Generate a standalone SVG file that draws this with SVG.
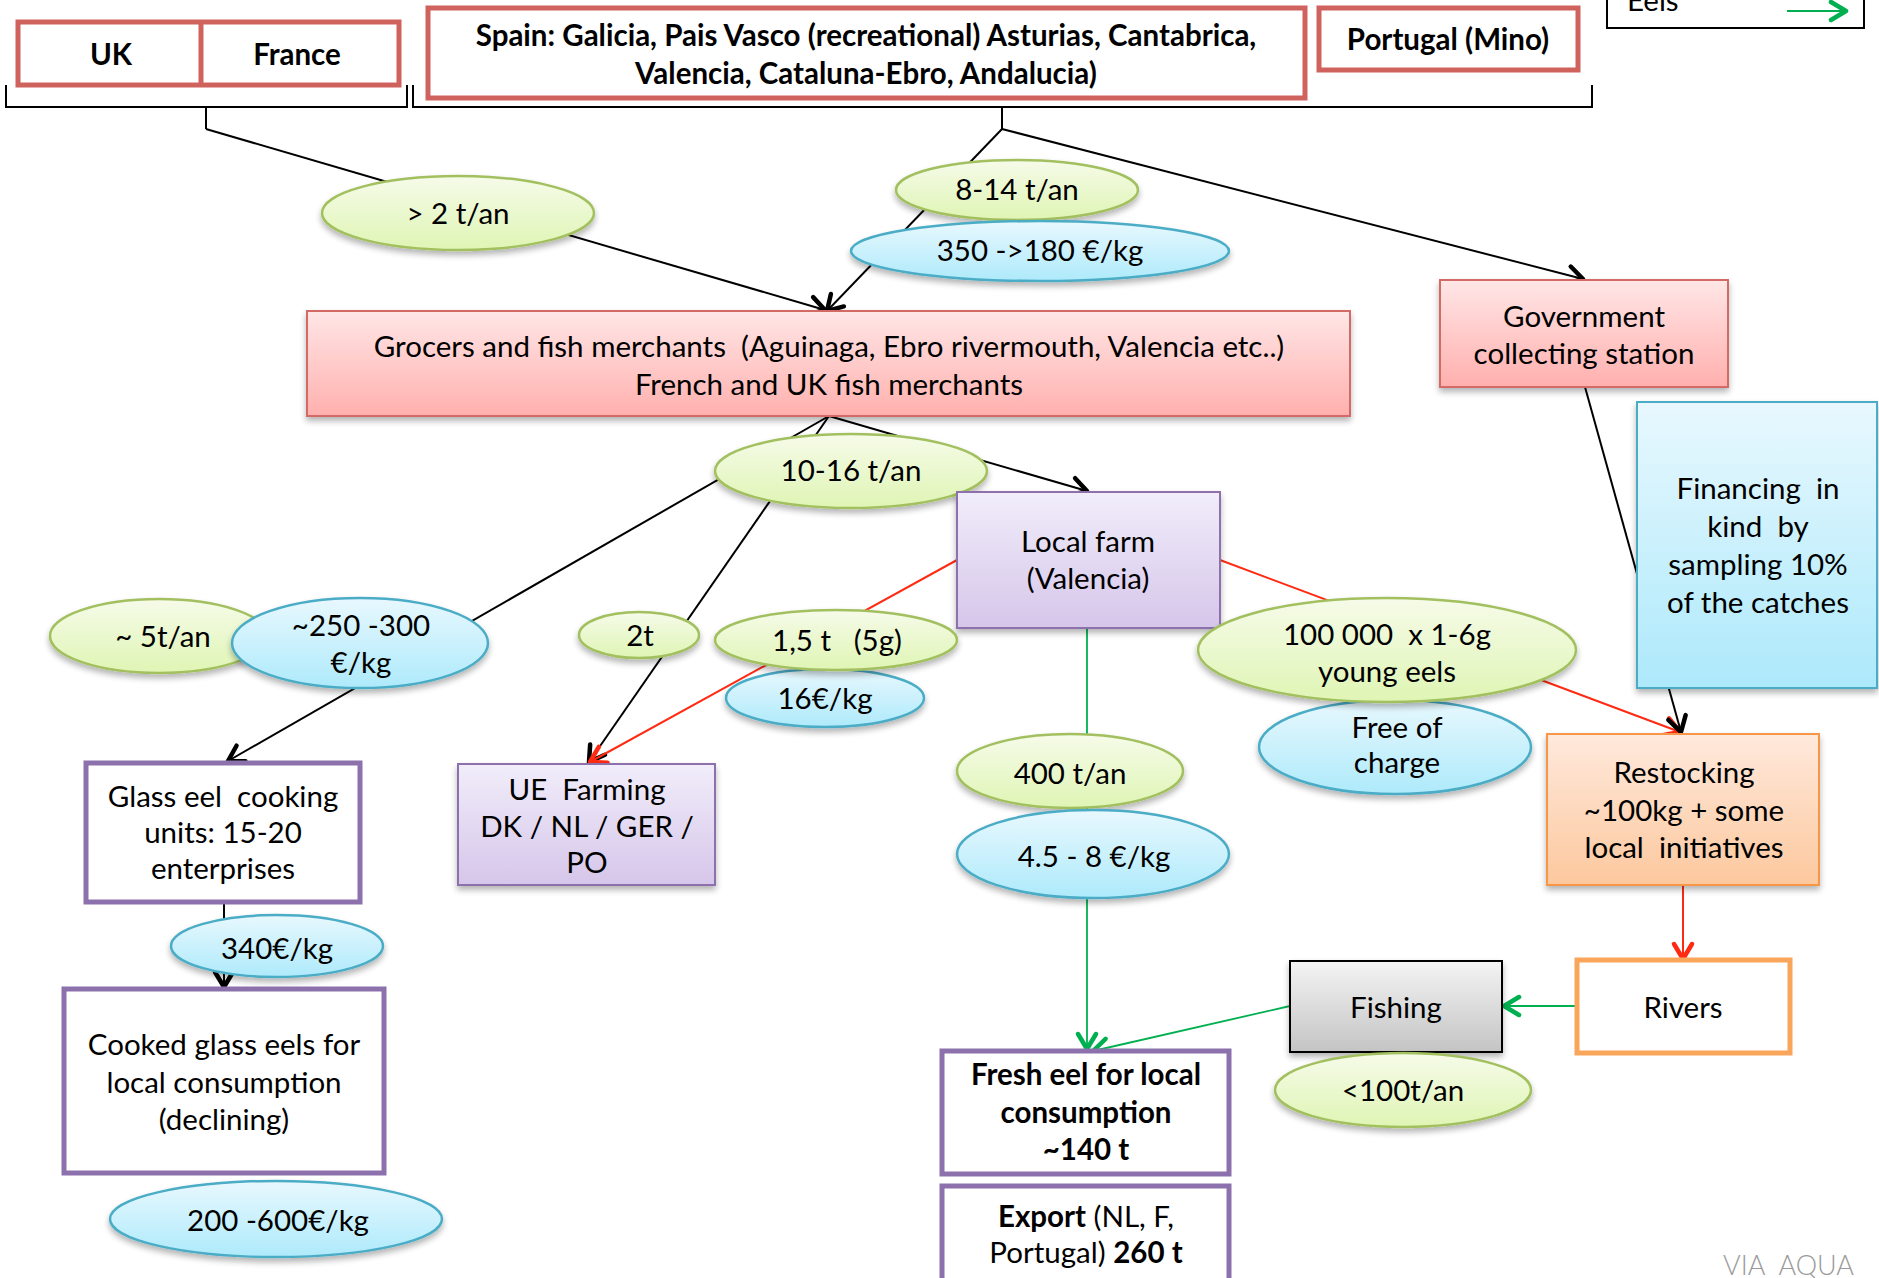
<svg xmlns="http://www.w3.org/2000/svg" width="1879" height="1278" viewBox="0 0 1879 1278" xml:space="preserve">
  <style>
    .t { font-family: Lato, "Open Sans", "DejaVu Sans", sans-serif; font-size: 29.5px; fill: #000; text-anchor: middle; white-space: pre; }
    .b { font-weight: bold; }
    .cb { fill: none; stroke: #000; stroke-width: 2; }
    .cr { fill: none; stroke: #ff2a12; stroke-width: 2; }
    .cg { fill: none; stroke: #00b050; stroke-width: 1.8; }
    .eg { fill: url(#gGreen); stroke: #a2c05e; stroke-width: 2.5; filter: url(#sh); }
    .eb { fill: url(#gBlue); stroke: #4bacc6; stroke-width: 2.5; filter: url(#sh); }
    .redbox { fill: #fff; stroke: #d0625e; stroke-width: 5; }
    .purbox { fill: #fff; stroke: #8c71ad; stroke-width: 5; }
  </style>
  <defs>
    <linearGradient id="gGreen" x1="0" y1="0" x2="0" y2="1">
      <stop offset="0" stop-color="#f6fbe9"/>
      <stop offset="1" stop-color="#dff5b4"/>
    </linearGradient>
    <linearGradient id="gBlue" x1="0" y1="0" x2="0" y2="1">
      <stop offset="0" stop-color="#e8f8fe"/>
      <stop offset="1" stop-color="#aeeafb"/>
    </linearGradient>
    <linearGradient id="gRed" x1="0" y1="0" x2="0" y2="1">
      <stop offset="0" stop-color="#ffe6e6"/>
      <stop offset="1" stop-color="#ffb0ae"/>
    </linearGradient>
    <linearGradient id="gPurple" x1="0" y1="0" x2="0" y2="1">
      <stop offset="0" stop-color="#f1edfa"/>
      <stop offset="1" stop-color="#d6c6ea"/>
    </linearGradient>
    <linearGradient id="gOrange" x1="0" y1="0" x2="0" y2="1">
      <stop offset="0" stop-color="#ffe9dc"/>
      <stop offset="1" stop-color="#fcc89e"/>
    </linearGradient>
    <linearGradient id="gGray" x1="0" y1="0" x2="0" y2="1">
      <stop offset="0" stop-color="#f4f4f4"/>
      <stop offset="1" stop-color="#c4c4c4"/>
    </linearGradient>
    <linearGradient id="gCyan" x1="0" y1="0" x2="0" y2="1">
      <stop offset="0" stop-color="#e8f8fe"/>
      <stop offset="1" stop-color="#ade9fb"/>
    </linearGradient>
    <filter id="sh" x="-10%" y="-15%" width="120%" height="140%">
      <feGaussianBlur in="SourceAlpha" stdDeviation="3" result="blur"/>
      <feOffset in="blur" dy="4" result="off"/>
      <feComponentTransfer in="off" result="shadow">
        <feFuncA type="linear" slope="0.3"/>
      </feComponentTransfer>
      <feMerge>
        <feMergeNode in="shadow"/>
        <feMergeNode in="SourceGraphic"/>
      </feMerge>
    </filter>
    <marker id="aBlack" markerUnits="userSpaceOnUse" viewBox="-22 -13 26 26" markerWidth="26" markerHeight="26" refX="0" refY="0" orient="auto">
      <path d="M-15,-9 L0,0 L-15,9" fill="none" stroke="#000" stroke-width="4.5" stroke-linecap="round" stroke-linejoin="round"/>
    </marker>
    <marker id="aRed" markerUnits="userSpaceOnUse" viewBox="-22 -13 26 26" markerWidth="26" markerHeight="26" refX="0" refY="0" orient="auto">
      <path d="M-15,-9 L0,0 L-15,9" fill="none" stroke="#ff2a12" stroke-width="4.5" stroke-linecap="round" stroke-linejoin="round"/>
    </marker>
    <marker id="aGreen" markerUnits="userSpaceOnUse" viewBox="-22 -13 26 26" markerWidth="26" markerHeight="26" refX="0" refY="0" orient="auto">
      <path d="M-15,-9 L0,0 L-15,9" fill="none" stroke="#00b050" stroke-width="4.5" stroke-linecap="round" stroke-linejoin="round"/>
    </marker>
  </defs>

  <rect width="1879" height="1278" fill="#fff"/>

  <!-- legend -->
  <g id="legend">
    <rect x="1607" y="-20" width="257" height="48" fill="#fff" stroke="#000" stroke-width="2"/>
    <text class="t" x="1627" y="11" style="text-anchor:start">Eels</text>
    <line x1="1787" y1="11" x2="1846" y2="11" class="cg" marker-end="url(#aGreen)"/>
  </g>

  <!-- source countries and their brackets -->
  <g id="brackets" fill="none" stroke="#000" stroke-width="2">
    <path d="M6,85 V107 H407 V85 M206,107 V129"/>
    <path d="M413,85 V107 H1592 V85 M1002,107 V129"/>
  </g>

  <!-- connectors -->
  <g id="connectors">
    <line x1="206" y1="129" x2="825" y2="310" class="cb" marker-end="url(#aBlack)"/>
    <line x1="1002" y1="129" x2="827" y2="311" class="cb" marker-end="url(#aBlack)"/>
    <line x1="1002" y1="129" x2="1583" y2="279" class="cb" marker-end="url(#aBlack)"/>
    <line x1="829" y1="416" x2="228" y2="761" class="cb" marker-end="url(#aBlack)"/>
    <line x1="829" y1="416" x2="589" y2="762" class="cb" marker-end="url(#aBlack)"/>
    <line x1="829" y1="416" x2="1087" y2="491" class="cb" marker-end="url(#aBlack)"/>
    <line x1="957" y1="560" x2="590" y2="762" class="cr" marker-end="url(#aRed)"/>
    <line x1="1220" y1="560" x2="1680" y2="732" class="cr" marker-end="url(#aRed)"/>
    <line x1="1585" y1="387" x2="1681" y2="732" class="cb" stroke-width="1.6" marker-end="url(#aBlack)"/>
    <line x1="1087" y1="628" x2="1087" y2="1049" class="cg" marker-end="url(#aGreen)"/>
    <line x1="1683" y1="885" x2="1683" y2="959" class="cr" marker-end="url(#aRed)"/>
    <line x1="1577" y1="1006" x2="1504" y2="1006" class="cg" stroke-width="2.5" marker-end="url(#aGreen)"/>
    <line x1="1290" y1="1006" x2="1093" y2="1051" class="cg" marker-end="url(#aGreen)"/>
    <line x1="224" y1="902" x2="224" y2="987" class="cb" marker-end="url(#aBlack)"/>
  </g>

  <g id="uk-france">
    <rect x="18" y="22" width="381" height="63" class="redbox"/>
    <line x1="201" y1="22" x2="201" y2="85" stroke="#d0625e" stroke-width="5"/>
    <text class="t b" x="111" y="65">UK</text>
    <text class="t b" x="297" y="65">France</text>
  </g>

  <g id="spain">
    <rect x="428" y="8" width="877" height="90" class="redbox"/>
    <text class="t b" x="866" y="46">Spain: Galicia, Pais Vasco (recreational) Asturias, Cantabrica,</text>
    <text class="t b" x="866" y="84">Valencia, Cataluna-Ebro, Andalucia)</text>
  </g>

  <g id="portugal">
    <rect x="1319" y="8" width="259" height="62" class="redbox"/>
    <text class="t b" x="1448" y="50">Portugal (Mino)</text>
  </g>

  <g id="q-uk-france">
    <ellipse cx="458" cy="213" rx="136" ry="37" class="eg"/>
    <text class="t" x="458" y="224">&gt; 2 t/an</text>
  </g>

  <g id="q-spain">
    <ellipse cx="1017" cy="190" rx="121" ry="30" class="eg"/>
    <text class="t" x="1017" y="200">8-14 t/an</text>
  </g>

  <g id="p-spain">
    <ellipse cx="1040" cy="251" rx="189" ry="30" class="eb"/>
    <text class="t" x="1040" y="261">350 -&gt;180 €/kg</text>
  </g>

  <g id="grocers">
    <rect x="307" y="311" width="1043" height="105" fill="url(#gRed)" stroke="#d46a66" stroke-width="2" filter="url(#sh)"/>
    <text class="t" x="829" y="357">Grocers and fish merchants  (Aguinaga, Ebro rivermouth, Valencia etc..)</text>
    <text class="t" x="829" y="395">French and UK fish merchants</text>
  </g>

  <g id="government">
    <rect x="1440" y="280" width="288" height="107" fill="url(#gRed)" stroke="#d46a66" stroke-width="2" filter="url(#sh)"/>
    <text class="t" x="1584" y="327">Government</text>
    <text class="t" x="1584" y="364">collecting station</text>
  </g>

  <g id="q-grocers">
    <ellipse cx="851" cy="471" rx="136" ry="37" class="eg"/>
    <text class="t" x="851" y="481">10-16 t/an</text>
  </g>

  <g id="local-farm">
    <rect x="957" y="492" width="263" height="136" fill="url(#gPurple)" stroke="#8c71ad" stroke-width="2" filter="url(#sh)"/>
    <text class="t" x="1088" y="552">Local farm</text>
    <text class="t" x="1088" y="589">(Valencia)</text>
  </g>

  <g id="financing">
    <rect x="1637" y="402" width="240" height="286" fill="url(#gCyan)" stroke="#4bacc6" stroke-width="2" filter="url(#sh)"/>
    <text class="t" x="1758" y="499">Financing  in</text>
    <text class="t" x="1758" y="537">kind  by</text>
    <text class="t" x="1758" y="575">sampling 10%</text>
    <text class="t" x="1758" y="613">of the catches</text>
  </g>

  <g id="q-cooking">
    <ellipse cx="159" cy="636" rx="109" ry="37" class="eg"/>
    <text class="t" x="163" y="647">~ 5t/an</text>
  </g>

  <g id="p-cooking">
    <ellipse cx="360" cy="643" rx="128" ry="45" class="eb"/>
    <text class="t" x="361" y="636">~250 -300</text>
    <text class="t" x="361" y="673">€/kg</text>
  </g>

  <g id="q-farming">
    <ellipse cx="639" cy="635" rx="60" ry="23" class="eg"/>
    <text class="t" x="640" y="646">2t</text>
  </g>

  <g id="p-glass">
    <ellipse cx="825" cy="698" rx="99" ry="29" class="eb"/>
    <text class="t" x="825" y="709">16€/kg</text>
  </g>

  <g id="q-glass">
    <ellipse cx="836" cy="640" rx="121" ry="30" class="eg"/>
    <text class="t" x="837" y="651">1,5 t   (5g)</text>
  </g>

  <g id="p-young">
    <ellipse cx="1395" cy="747" rx="136" ry="47" class="eb"/>
    <text class="t" x="1397" y="738">Free of</text>
    <text class="t" x="1397" y="773">charge</text>
  </g>

  <g id="q-young">
    <ellipse cx="1387" cy="650" rx="189" ry="52" class="eg"/>
    <text class="t" x="1387" y="645">100 000  x 1-6g</text>
    <text class="t" x="1387" y="682">young eels</text>
  </g>

  <g id="q-farm">
    <ellipse cx="1070" cy="771" rx="113" ry="37" class="eg"/>
    <text class="t" x="1070" y="784">400 t/an</text>
  </g>

  <g id="p-farm">
    <ellipse cx="1093" cy="854" rx="136" ry="44" class="eb"/>
    <text class="t" x="1094" y="867">4.5 - 8 €/kg</text>
  </g>

  <g id="cooking-units">
    <rect x="86" y="763" width="274" height="139" class="purbox"/>
    <text class="t" x="223" y="807">Glass eel  cooking</text>
    <text class="t" x="223" y="843">units: 15-20</text>
    <text class="t" x="223" y="879">enterprises</text>
  </g>

  <g id="ue-farming">
    <rect x="458" y="764" width="257" height="121" fill="url(#gPurple)" stroke="#8c71ad" stroke-width="2" filter="url(#sh)"/>
    <text class="t" x="587" y="800">UE  Farming</text>
    <text class="t" x="587" y="837">DK / NL / GER /</text>
    <text class="t" x="587" y="873">PO</text>
  </g>

  <g id="restocking">
    <rect x="1547" y="734" width="272" height="151" fill="url(#gOrange)" stroke="#f79646" stroke-width="2" filter="url(#sh)"/>
    <text class="t" x="1684" y="783">Restocking</text>
    <text class="t" x="1684" y="821">~100kg + some</text>
    <text class="t" x="1684" y="858">local  initiatives</text>
  </g>

  <g id="p-cooked">
    <ellipse cx="277" cy="946" rx="106" ry="31" class="eb"/>
    <text class="t" x="277" y="959">340€/kg</text>
  </g>

  <g id="cooked">
    <rect x="64" y="989" width="320" height="184" class="purbox"/>
    <text class="t" x="224" y="1055">Cooked glass eels for</text>
    <text class="t" x="224" y="1093">local consumption</text>
    <text class="t" x="224" y="1130">(declining)</text>
  </g>

  <g id="p-consumer">
    <ellipse cx="276" cy="1219" rx="166" ry="38" class="eb"/>
    <text class="t" x="278" y="1231">200 -600€/kg</text>
  </g>

  <g id="rivers">
    <rect x="1577" y="960" width="213" height="93" fill="#fff" stroke="#f9a55a" stroke-width="5"/>
    <text class="t" x="1683" y="1018">Rivers</text>
  </g>

  <g id="fishing">
    <rect x="1290" y="961" width="212" height="91" fill="url(#gGray)" stroke="#000" stroke-width="2" filter="url(#sh)"/>
    <text class="t" x="1396" y="1018">Fishing</text>
  </g>

  <g id="q-fishing">
    <ellipse cx="1403" cy="1090" rx="128" ry="37" class="eg"/>
    <text class="t" x="1403" y="1101">&lt;100t/an</text>
  </g>

  <g id="fresh-eel">
    <rect x="942" y="1051" width="287" height="123" class="purbox"/>
    <text class="t b" x="1086" y="1085">Fresh eel for local</text>
    <text class="t b" x="1086" y="1123">consumption</text>
    <text class="t b" x="1086" y="1160">~140 t</text>
  </g>

  <g id="export">
    <rect x="942" y="1186" width="287" height="110" class="purbox"/>
    <text class="t" x="1086" y="1227"><tspan class="b">Export</tspan> (NL, F,</text>
    <text class="t" x="1086" y="1263">Portugal) <tspan class="b">260 t</tspan></text>
  </g>

  <text class="t" x="1854" y="1275" style="text-anchor:end;fill:#9a9a9a;font-size:27px;font-weight:300">VIA  AQUA</text>
</svg>
